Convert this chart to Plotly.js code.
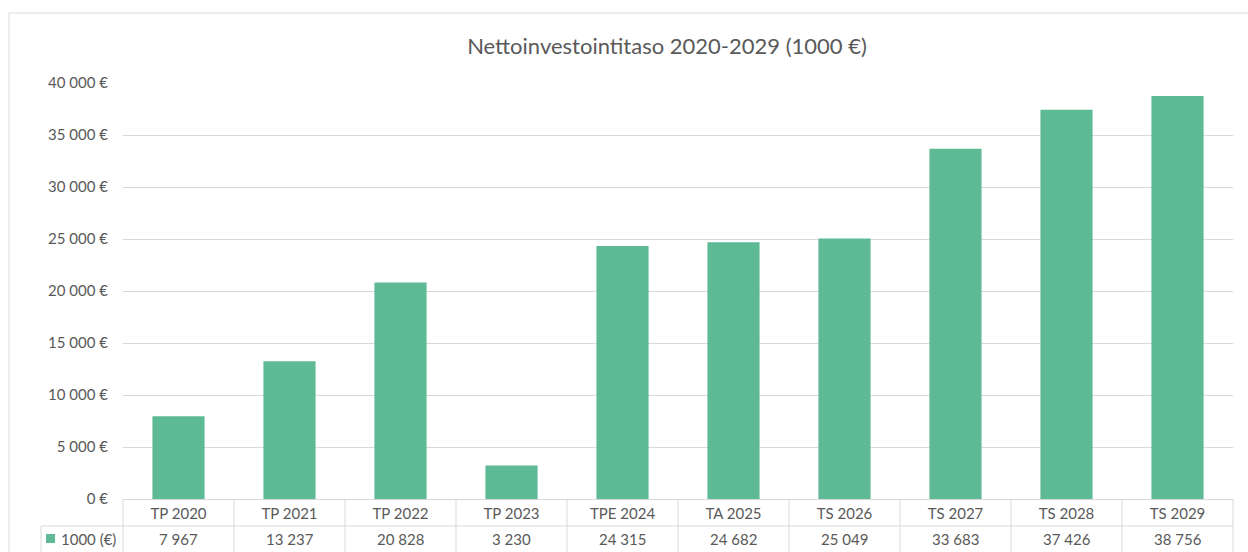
<!DOCTYPE html>
<html>
<head>
<meta charset="utf-8">
<script src="https://cdn.plot.ly/plotly-3.0.1.min.js"></script>
<style>html,body{margin:0;padding:0;background:#fff;}#chart{width:1248px;height:552px;}</style>
</head>
<body>
<div id="chart"></div>
<script>
const chartTitle = "Nettoinvestointitaso 2020-2029 (1000 €)";
const categories = ["TP 2020","TP 2021","TP 2022","TP 2023","TPE 2024","TA 2025","TS 2026","TS 2027","TS 2028","TS 2029"];
const values = [7967,13237,20828,3230,24315,24682,25049,33683,37426,38756];
const seriesName = "1000 (€)";
const yMax = 40000;
const yStep = 5000;

const W = 1248, H = 552;
const M = {l:123, r:15, t:83, b:53};
const PW = W - M.l - M.r, PH = H - M.t - M.b;
const px2x = p => (p - M.l) / PW;
const py2y = p => (M.t + PH - p) / PH;

const fmt = v => String(v).replace(/\B(?=(\d{3})+(?!\d))/g, " ");

const txt = "#595959", grid = "#D9D9D9", barColor = "#5EBA95";
const font = "Lato, 'Open Sans', sans-serif";

const N = categories.length;
const shapes = [];
// outer chart frame
shapes.push({type:"rect", xref:"paper", yref:"paper", x0:px2x(9), x1:px2x(1270), y0:py2y(580), y1:py2y(13), line:{color:grid, width:1}, layer:"below"});
// table: value row top border
shapes.push({type:"line", xref:"paper", yref:"paper", x0:px2x(41), x1:1, y0:py2y(526), y1:py2y(526), line:{color:grid, width:1}});
// table vertical borders on category boundaries
for (let i = 0; i <= N; i++) {
  shapes.push({type:"line", xref:"paper", yref:"paper", x0:i/N, x1:i/N, y0:0, y1:py2y(570), line:{color:grid, width:1}});
}
// legend cell left border
shapes.push({type:"line", xref:"paper", yref:"paper", x0:px2x(41), x1:px2x(41), y0:py2y(526), y1:py2y(570), line:{color:grid, width:1}});
// legend key square
shapes.push({type:"rect", xref:"paper", yref:"paper", x0:px2x(46), x1:px2x(55), y0:py2y(543), y1:py2y(534), fillcolor:barColor, line:{width:0}});

const annotations = values.map((v, i) => ({
  xref:"x", yref:"paper", x:categories[i], y:py2y(539), text:fmt(v), showarrow:false,
  xanchor:"center", yanchor:"middle", font:{family:font, size:15, color:txt}
}));
annotations.push({
  xref:"paper", yref:"paper", x:px2x(59), y:py2y(539), showarrow:false, xanchor:"left", yanchor:"middle",
  text:seriesName, font:{family:font, size:15, color:txt}
});

const data = [{
  type:"bar", x:categories, y:values, name:seriesName,
  marker:{color:barColor}, hoverinfo:"x+y", showlegend:false
}];

const layout = {
  width:W, height:H, margin:M, paper_bgcolor:"#fff", plot_bgcolor:"#fff",
  separators:", ",
  title:{text:chartTitle, x:667/W, xref:"container", xanchor:"center", y:1-46/H, yref:"container", yanchor:"middle",
         font:{family:font, size:22, color:txt}},
  bargap:0.53,
  xaxis:{type:"category", showgrid:false, zeroline:false, showline:false, ticks:"", ticklabelstandoff:4,
         tickfont:{family:font, size:15, color:txt}, fixedrange:true},
  yaxis:{range:[0, yMax], dtick:yStep, tick0:0, tickformat:",d", ticksuffix:" €", showgrid:true, gridcolor:grid, gridwidth:1,
         zeroline:true, zerolinecolor:grid, zerolinewidth:1, showline:false, ticks:"", ticklabelstandoff:14,
         tickfont:{family:font, size:15, color:txt}, fixedrange:true},
  shapes:shapes, annotations:annotations, showlegend:false
};

Plotly.newPlot("chart", data, layout, {displayModeBar:false, staticPlot:true});
</script>
</body>
</html>
